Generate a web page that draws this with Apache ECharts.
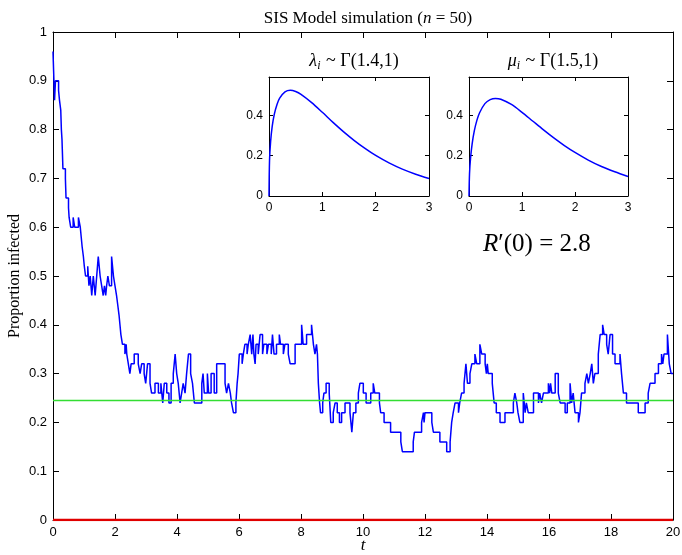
<!DOCTYPE html>
<html>
<head>
<meta charset="utf-8">
<script src="https://cdn.jsdelivr.net/npm/echarts@6/dist/echarts.min.js"></script>
<style>
  html, body { margin: 0; padding: 0; background: #fff; }
  #main { width: 682px; height: 555px; }
</style>
</head>
<body>
<div id="main"></div>
<script>
// SIS simulation, n = 50 (proportion infected, piecewise constant)
var stepTimes = [
  0, 0.01, 0.02, 0.03, 0.05, 0.08, 0.18, 0.21, 0.25, 0.26, 0.27, 0.29, 0.30, 0.31, 0.32, 0.40, 0.41, 0.42, 0.50, 0.52,
  0.57, 0.65, 0.70, 0.82, 0.88, 0.91, 0.94, 0.98, 1.01, 1.05, 1.12, 1.16, 1.20, 1.25, 1.30, 1.33, 1.36, 1.41, 1.46, 1.52,
  1.57, 1.62, 1.66, 1.70, 1.73, 1.77, 1.82, 1.89, 1.95, 2.00, 2.05, 2.09, 2.13, 2.16, 2.19, 2.24, 2.32, 2.36, 2.38, 2.43,
  2.48, 2.52, 2.62, 2.75, 2.81, 2.86, 2.94, 2.99, 3.05, 3.13, 3.18, 3.29, 3.40, 3.48, 3.54, 3.59, 3.67, 3.74, 3.81, 3.88,
  3.94, 3.99, 4.04, 4.10, 4.15, 4.20, 4.26, 4.31, 4.37, 4.44, 4.50, 4.56, 4.80, 4.84, 4.88, 4.98, 5.02, 5.10, 5.20, 5.28,
  5.55, 5.60, 5.66, 5.72, 5.76, 5.82, 5.90, 5.94, 5.97, 6.01, 6.10, 6.14, 6.19, 6.26, 6.30, 6.36, 6.41, 6.45, 6.48, 6.52,
  6.55, 6.62, 6.68, 6.76, 6.80, 6.90, 6.95, 7.04, 7.08, 7.13, 7.21, 7.30, 7.34, 7.43, 7.48, 7.59, 7.65, 7.81, 8.02, 8.07,
  8.18, 8.34, 8.40, 8.45, 8.50, 8.53, 8.56, 8.60, 8.63, 8.70, 8.74, 8.81, 8.91, 8.96, 9.04, 9.10, 9.17, 9.24, 9.31, 9.42,
  9.58, 9.64, 9.69, 9.77, 9.85, 9.90, 10.01, 10.10, 10.25, 10.33, 10.38, 10.53, 10.57, 10.68, 10.89, 11.22, 11.27, 11.62, 11.66, 11.89,
  11.95, 11.97, 12.00, 12.22, 12.27, 12.48, 12.70, 12.81, 12.86, 12.91, 12.97, 13.08, 13.12, 13.18, 13.26, 13.32, 13.37, 13.45, 13.51, 13.61,
  13.67, 13.77, 13.83, 13.94, 13.98, 14.01, 14.04, 14.17, 14.23, 14.30, 14.42, 14.58, 14.85, 14.90, 14.96, 15.00, 15.06, 15.17, 15.23, 15.27,
  15.33, 15.50, 15.66, 15.70, 15.76, 15.82, 15.98, 16.02, 16.05, 16.09, 16.20, 16.30, 16.36, 16.52, 16.59, 16.68, 16.73, 16.78, 16.84, 16.95,
  17.00, 17.05, 17.16, 17.22, 17.27, 17.33, 17.38, 17.43, 17.48, 17.59, 17.65, 17.73, 17.78, 17.86, 17.91, 17.97, 18.05, 18.13, 18.29, 18.34,
  18.40, 18.50, 18.88, 19.10, 19.20, 19.26, 19.42, 19.53, 19.63, 19.67, 19.71, 19.82, 19.88, 19.94, 20.00
];
var stepValues = [
  0.96, 0.94, 0.92, 0.90, 0.86, 0.90, 0.88, 0.86, 0.84, 0.82, 0.80, 0.78, 0.76, 0.74, 0.72, 0.70, 0.68, 0.66, 0.64, 0.62,
  0.60, 0.62, 0.60, 0.62, 0.60, 0.58, 0.56, 0.54, 0.52, 0.50, 0.52, 0.48, 0.50, 0.46, 0.50, 0.48, 0.46, 0.50, 0.54, 0.50,
  0.48, 0.46, 0.48, 0.46, 0.48, 0.50, 0.48, 0.54, 0.50, 0.48, 0.46, 0.44, 0.42, 0.40, 0.38, 0.36, 0.34, 0.36, 0.34, 0.32,
  0.30, 0.32, 0.34, 0.32, 0.30, 0.32, 0.30, 0.28, 0.32, 0.28, 0.26, 0.28, 0.26, 0.28, 0.24, 0.28, 0.26, 0.24, 0.28, 0.30,
  0.34, 0.30, 0.28, 0.24, 0.26, 0.28, 0.26, 0.30, 0.34, 0.30, 0.28, 0.24, 0.28, 0.30, 0.26, 0.30, 0.26, 0.30, 0.26, 0.32,
  0.28, 0.26, 0.28, 0.26, 0.24, 0.22, 0.24, 0.28, 0.30, 0.34, 0.32, 0.34, 0.36, 0.34, 0.36, 0.38, 0.34, 0.38, 0.34, 0.32,
  0.36, 0.34, 0.38, 0.34, 0.36, 0.34, 0.36, 0.34, 0.38, 0.34, 0.36, 0.38, 0.36, 0.34, 0.36, 0.34, 0.32, 0.36, 0.40, 0.36,
  0.38, 0.40, 0.36, 0.34, 0.36, 0.34, 0.28, 0.24, 0.22, 0.24, 0.26, 0.28, 0.26, 0.20, 0.22, 0.24, 0.22, 0.20, 0.22, 0.24,
  0.22, 0.18, 0.22, 0.24, 0.26, 0.28, 0.26, 0.24, 0.26, 0.28, 0.26, 0.24, 0.22, 0.20, 0.18, 0.16, 0.14, 0.16, 0.18, 0.20,
  0.22, 0.20, 0.22, 0.20, 0.18, 0.16, 0.14, 0.16, 0.20, 0.22, 0.24, 0.22, 0.24, 0.26, 0.28, 0.32, 0.28, 0.30, 0.32, 0.34,
  0.32, 0.36, 0.34, 0.32, 0.30, 0.32, 0.30, 0.28, 0.24, 0.22, 0.20, 0.22, 0.24, 0.26, 0.24, 0.22, 0.20, 0.26, 0.22, 0.24,
  0.22, 0.26, 0.24, 0.26, 0.24, 0.26, 0.28, 0.26, 0.28, 0.26, 0.30, 0.26, 0.24, 0.22, 0.24, 0.28, 0.24, 0.26, 0.22, 0.20,
  0.22, 0.26, 0.28, 0.30, 0.28, 0.30, 0.32, 0.28, 0.30, 0.34, 0.38, 0.40, 0.38, 0.36, 0.34, 0.38, 0.34, 0.32, 0.34, 0.30,
  0.26, 0.24, 0.22, 0.24, 0.26, 0.28, 0.30, 0.32, 0.34, 0.32, 0.34, 0.38, 0.32, 0.30, 0.30
];
var equilibrium = 0.245;
var tRange = [0, 20];

// inset densities
var densX = [0, 0.01, 0.03, 0.06, 0.1, 0.15, 0.2, 0.3, 0.4, 0.5, 0.6, 0.8, 1.0, 1.2, 1.4, 1.6, 1.8, 2.0, 2.25, 2.5, 2.75, 3.0];
var lambdaDens = [0, 0.177, 0.269, 0.345, 0.406, 0.454, 0.485, 0.516, 0.524, 0.518, 0.504, 0.463, 0.415, 0.365, 0.318, 0.275, 0.236, 0.201, 0.164, 0.133, 0.108, 0.087];
var muDens = [0, 0.112, 0.190, 0.260, 0.323, 0.376, 0.413, 0.458, 0.478, 0.484, 0.480, 0.454, 0.415, 0.372, 0.329, 0.288, 0.250, 0.216, 0.178, 0.146, 0.120, 0.097];

var mainXTicks = 2, mainYTicks = 0.1;

function zip(a, b) {
  return a.map(function (v, i) { return [v, b[i]]; });
}

var SANS = 'Liberation Sans';
var SERIF = 'Liberation Serif';

var myChart = echarts.init(document.getElementById('main'));

function valAxis(gridIndex, min, max, interval, position, showLabels, fontSize) {
  return {
    type: 'value', gridIndex: gridIndex, min: min, max: max, interval: interval, position: position,
    axisLine: { show: true, onZero: false, lineStyle: { color: '#000', width: 1 } },
    axisTick: { show: true, inside: true, length: gridIndex === 0 ? 6 : 4, lineStyle: { color: '#000' } },
    axisLabel: { show: showLabels, color: '#000', fontFamily: SANS, fontSize: fontSize, margin: 6 },
    splitLine: { show: false }
  };
}

var xAxes = [
  valAxis(0, tRange[0], tRange[1], mainXTicks, 'bottom', true, 13),
  valAxis(0, tRange[0], tRange[1], mainXTicks, 'top', false, 13),
  valAxis(1, 0, 3, 1, 'bottom', true, 12),
  valAxis(1, 0, 3, 1, 'top', false, 12),
  valAxis(2, 0, 3, 1, 'bottom', true, 12),
  valAxis(2, 0, 3, 1, 'top', false, 12)
];

var yAxes = [
  valAxis(0, 0, 1, mainYTicks, 'left', true, 13),
  valAxis(0, 0, 1, mainYTicks, 'right', false, 13),
  valAxis(1, 0, 0.59, 0.2, 'left', true, 12),
  valAxis(1, 0, 0.59, 0.2, 'right', false, 12),
  valAxis(2, 0, 0.59, 0.2, 'left', true, 12),
  valAxis(2, 0, 0.59, 0.2, 'right', false, 12)
];
yAxes[2].axisLabel.showMaxLabel = false;
yAxes[4].axisLabel.showMaxLabel = false;

function titleRich(size) {
  return {
    a: { fontFamily: SERIF, fontSize: size, fontWeight: 'normal', color: '#000' },
    i: { fontFamily: SERIF, fontSize: size, fontWeight: 'normal', fontStyle: 'italic', color: '#000' },
    sub: { fontFamily: SERIF, fontSize: Math.round(size * 0.68), fontWeight: 'normal', fontStyle: 'italic', color: '#000', padding: [9, 1, 0, 0] }
  };
}

var option = {
  animation: false,
  backgroundColor: '#fff',
  title: [
    {
      text: '{a|SIS Model simulation (}{i|n}{a| = 50)}',
      left: 363, top: 5, textAlign: 'center',
      textStyle: { fontWeight: 'normal', rich: titleRich(17) }
    },
    {
      text: '{i|λ}{sub|i}{a| ~ Γ(1.4,1)}',
      left: 349, top: 46, textAlign: 'center',
      textStyle: { fontWeight: 'normal', rich: titleRich(18) }
    },
    {
      text: '{i|μ}{sub|i}{a| ~ Γ(1.5,1)}',
      left: 548, top: 46, textAlign: 'center',
      textStyle: { fontWeight: 'normal', rich: titleRich(18) }
    }
  ],
  graphic: [
    {
      type: 'text', left: 483, top: 232,
      style: {
        text: '{i|R}{a|′(0) = 2.8}',
        rich: {
          a: { fontFamily: SERIF, fontSize: 25, fill: '#000' },
          i: { fontFamily: SERIF, fontSize: 25, fontStyle: 'italic', fill: '#000' }
        }
      }
    },
    {
      type: 'text', x: 15, y: 276, rotation: Math.PI / 2,
      style: {
        text: 'Proportion infected', fontFamily: SERIF, fontSize: 16, fill: '#000',
        align: 'center', verticalAlign: 'middle'
      }
    },
    {
      type: 'text', x: 363, y: 546,
      style: {
        text: 't', fontFamily: SERIF, fontStyle: 'italic', fontSize: 17, fill: '#000',
        align: 'center', verticalAlign: 'middle'
      }
    }
  ],
  grid: [
    { left: 53, right: 9, top: 32, bottom: 35, outerBoundsMode: 'none' },
    { left: 269, top: 77, width: 160, height: 119, outerBoundsMode: 'none' },
    { left: 469, top: 77, width: 159, height: 119, outerBoundsMode: 'none' }
  ],
  xAxis: xAxes,
  yAxis: yAxes,
  series: [
    {
      type: 'line', xAxisIndex: 0, yAxisIndex: 0, step: 'end', symbol: 'none',
      data: zip(stepTimes, stepValues),
      lineStyle: { color: '#0000ff', width: 1.5 }
    },
    {
      type: 'line', xAxisIndex: 0, yAxisIndex: 0, symbol: 'none',
      data: [[tRange[0], equilibrium], [tRange[1], equilibrium]],
      lineStyle: { color: '#33dd33', width: 1.5 }
    },
    {
      type: 'line', xAxisIndex: 0, yAxisIndex: 0, symbol: 'none',
      data: [[tRange[0], 0], [tRange[1], 0]],
      lineStyle: { color: '#e00000', width: 2.5 }
    },
    {
      type: 'line', xAxisIndex: 2, yAxisIndex: 2, symbol: 'none', smooth: 0.3,
      data: zip(densX, lambdaDens),
      lineStyle: { color: '#0000ff', width: 1.5 }
    },
    {
      type: 'line', xAxisIndex: 4, yAxisIndex: 4, symbol: 'none', smooth: 0.3,
      data: zip(densX, muDens),
      lineStyle: { color: '#0000ff', width: 1.5 }
    }
  ]
};

myChart.setOption(option);

window.addEventListener('resize', function () {
  myChart.resize();
});
</script>
</body>
</html>
